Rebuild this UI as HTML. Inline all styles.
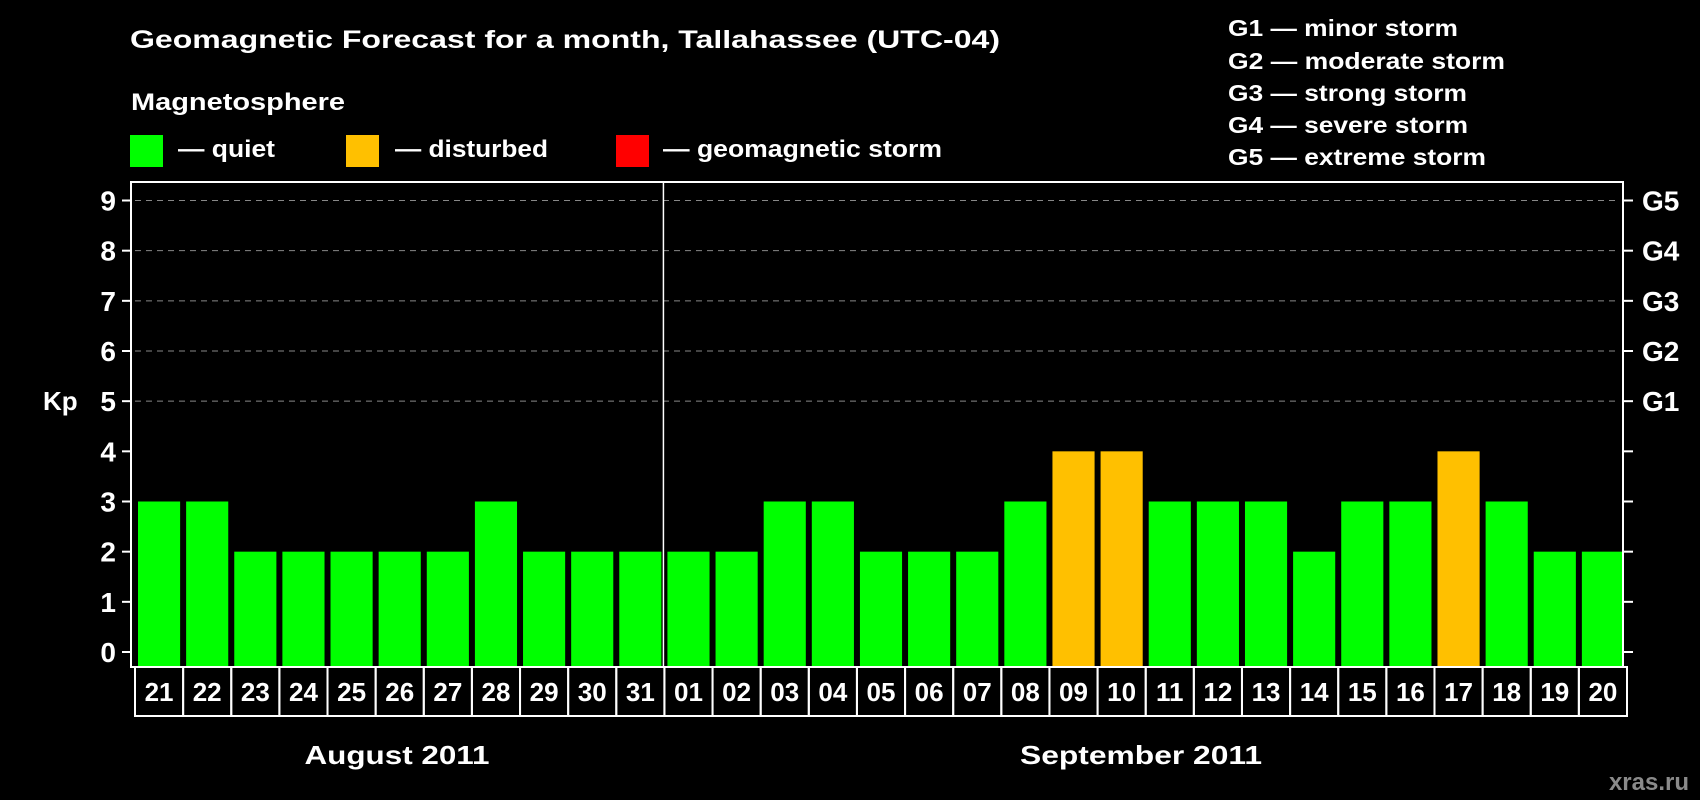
<!DOCTYPE html>
<html><head><meta charset="utf-8"><style>
html,body{margin:0;padding:0;background:#000;}
svg{display:block;font-family:"Liberation Sans",Arial,sans-serif;font-weight:bold;}
</style></head><body>
<svg id="chart" width="1700" height="800" viewBox="0 0 1700 800" xmlns="http://www.w3.org/2000/svg">
<rect width="1700" height="800" fill="#000"/>
<text x="130" y="48" fill="#fff" font-size="25" textLength="870" lengthAdjust="spacingAndGlyphs">Geomagnetic Forecast for a month, Tallahassee (UTC-04)</text>
<text x="131" y="110" fill="#fff" font-size="24" textLength="214" lengthAdjust="spacingAndGlyphs">Magnetosphere</text>
<rect x="130" y="135" width="33" height="32" fill="#00ff00"/>
<text x="178" y="157" fill="#fff" font-size="24" textLength="97" lengthAdjust="spacingAndGlyphs">— quiet</text>
<rect x="346" y="135" width="33" height="32" fill="#ffc000"/>
<text x="395" y="157" fill="#fff" font-size="24" textLength="153" lengthAdjust="spacingAndGlyphs">— disturbed</text>
<rect x="616" y="135" width="33" height="32" fill="#ff0000"/>
<text x="663" y="157" fill="#fff" font-size="24" textLength="279" lengthAdjust="spacingAndGlyphs">— geomagnetic storm</text>
<g fill="#fff" font-size="23">
<text x="1228" y="36" textLength="230" lengthAdjust="spacingAndGlyphs">G1 — minor storm</text>
<text x="1228" y="69" textLength="277" lengthAdjust="spacingAndGlyphs">G2 — moderate storm</text>
<text x="1228" y="101" textLength="239" lengthAdjust="spacingAndGlyphs">G3 — strong storm</text>
<text x="1228" y="133" textLength="240" lengthAdjust="spacingAndGlyphs">G4 — severe storm</text>
<text x="1228" y="165" textLength="258" lengthAdjust="spacingAndGlyphs">G5 — extreme storm</text>
</g>
<g id="plot"></g>
<text x="43" y="410" fill="#fff" font-size="26">Kp</text>
<text x="397" y="764" fill="#fff" font-size="26" text-anchor="middle" textLength="185" lengthAdjust="spacingAndGlyphs">August 2011</text>
<text x="1141" y="764" fill="#fff" font-size="26" text-anchor="middle" textLength="242" lengthAdjust="spacingAndGlyphs">September 2011</text>
<text x="1689" y="790" fill="#8a8a8a" font-size="24" text-anchor="end">xras.ru</text>
</svg>
<script>
const days = ["21","22","23","24","25","26","27","28","29","30","31","01","02","03","04","05","06","07","08","09","10","11","12","13","14","15","16","17","18","19","20"];
const kpValues = [3,3,2,2,2,2,2,3,2,2,2,2,2,3,3,2,2,2,3,4,4,3,3,3,2,3,3,4,3,2,2];
const yTicks = [0,1,2,3,4,5,6,7,8,9];
const stormLabels = ["G1","G2","G3","G4","G5"];
const monthBreakIndex = 11;

const NS = "http://www.w3.org/2000/svg";
const g = document.getElementById("plot");
const L = 131, R = 1623, T = 182, B = 667;
const y0 = 652, unit = (652 - 200.5) / 9;
const step = (R - L) / days.length;
const yS = v => y0 - v * unit;
const xS = i => L + i * step;
function mk(tag, attrs) { const e = document.createElementNS(NS, tag); for (const k in attrs) e.setAttribute(k, attrs[k]); g.appendChild(e); return e; }
function color(v) { return v >= 5 ? "#ff0000" : (v >= 4 ? "#ffc000" : "#00ff00"); }

yTicks.forEach(t => {
  const y = yS(t);
  if (t >= 5) {
    const gl = mk("line", {x1: L + 4, x2: R - 4, y1: y, y2: y, stroke: "#888", "stroke-width": 1, "stroke-dasharray": "6,5"});
    
    
  }
  const lt = mk("line", {x1: 122, x2: L, y1: y, y2: y, stroke: "#fff", "stroke-width": 2});
  
  
  const rt = mk("line", {x1: R, x2: R + 10, y1: y, y2: y, stroke: "#fff", "stroke-width": 2});
  
  
  const tx = mk("text", {x: 116, y: y + 10, fill: "#fff", "font-size": 28, "text-anchor": "end"});
  tx.textContent = t;
  
  
  if (t >= 5) {
    const gt = mk("text", {x: 1642, y: y + 10, fill: "#fff", "font-size": 28});
    gt.textContent = stormLabels[t - 5];
    
    
  }
});

kpValues.forEach((v, i) => {
  const b = mk("rect", {x: xS(i) + 7, y: yS(v), width: step - 6, height: B - yS(v), fill: color(v)});
  
  
  const c = mk("rect", {x: xS(i) + 4, y: B, width: step, height: 49, fill: "none", stroke: "#fff", "stroke-width": 2});
  
  
  const t = mk("text", {x: xS(i) + 4 + step / 2, y: 701, fill: "#fff", "font-size": 26, "text-anchor": "middle"});
  t.textContent = days[i];
  
  
});

const frame = mk("rect", {x: L, y: T, width: R - L, height: B - T, fill: "none", stroke: "#fff", "stroke-width": 2});


const mb = mk("line", {x1: xS(monthBreakIndex) + 3, x2: xS(monthBreakIndex) + 3, y1: T, y2: B, stroke: "#fff", "stroke-width": 1.5});


</script>
</body></html>
